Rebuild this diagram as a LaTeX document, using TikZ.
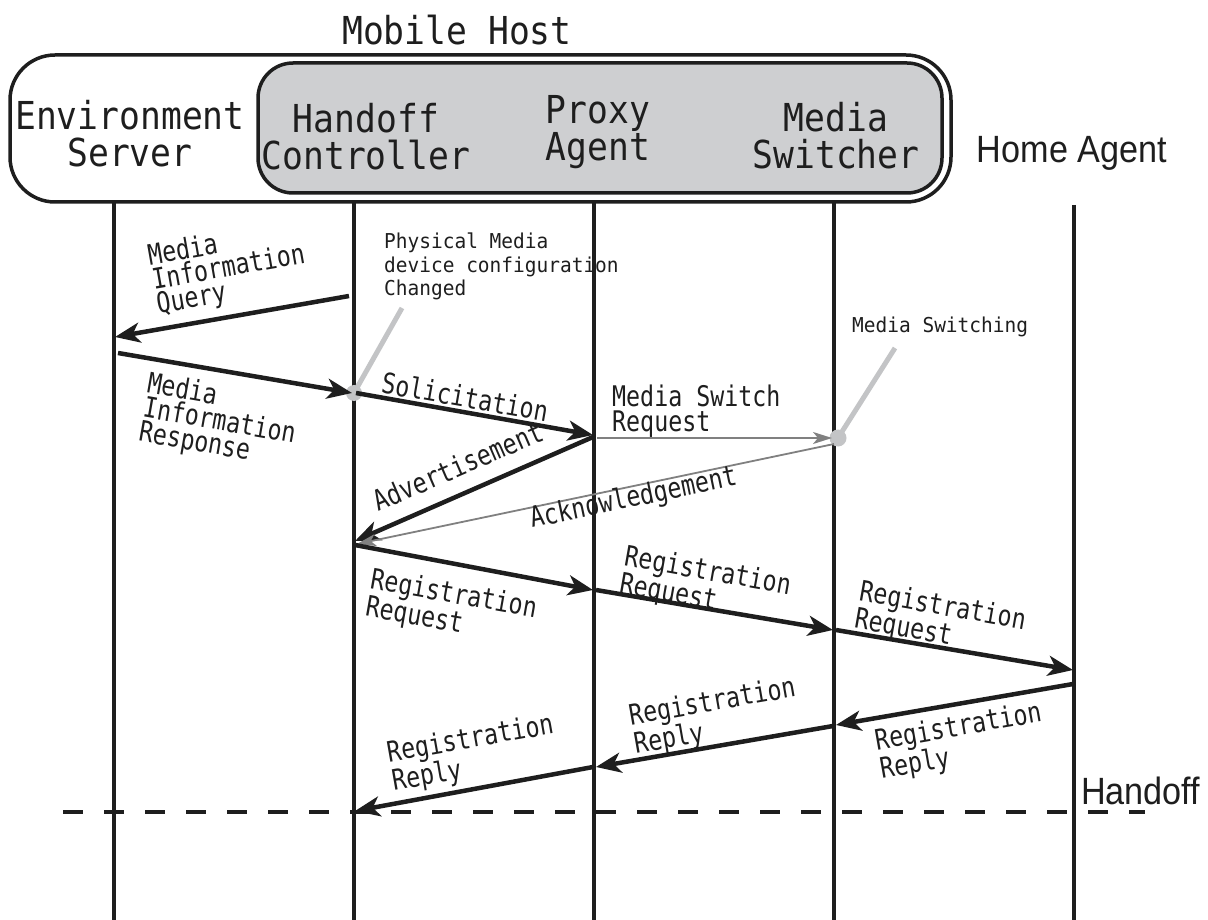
\documentclass[tikz,border=0pt]{standalone}
\usepackage{fontspec}
\usetikzlibrary{arrows.meta}
\setmainfont{Liberation Sans}
\newfontfamily\hdrfont[FakeStretch=0.9]{DejaVu Sans Mono}
\newfontfamily\lblfont[FakeStretch=0.82]{DejaVu Sans Mono}
\newfontfamily\notefont[FakeStretch=0.95]{DejaVu Sans Mono}
\newfontfamily\namefont[FakeStretch=0.9]{Liberation Sans}
\definecolor{ink}{RGB}{30,30,30}
\definecolor{boxgray}{RGB}{206,207,209}
\definecolor{calloutgray}{RGB}{195,196,198}
\definecolor{msggray}{RGB}{128,128,128}
\tikzset{
  hdr/.style={font=\hdrfont\fontsize{38.5}{37}\selectfont, align=center, inner sep=0pt, text=ink},
  plainhdr/.style={font=\namefont\fontsize{38}{38}\selectfont, inner sep=0pt, text=ink},
  lbl/.style={font=\lblfont\fontsize{28.4}{24.5}\selectfont, align=left, inner sep=0pt, text=ink},
  note/.style={font=\notefont\fontsize{20.5}{23.5}\selectfont, align=left, inner sep=0pt, text=ink},
  lifeline/.style={line width=4pt, draw=ink},
  msg/.style={line width=4.5pt, draw=ink, -{Stealth[length=25pt, width=20pt, inset=7pt]}},
  graymsg/.style={line width=1.8pt, draw=msggray, -{Stealth[length=19pt, width=12pt, inset=5pt]}},
  callout/.style={line width=5pt, draw=calloutgray},
  frame/.style={line width=3.5pt, draw=ink},
}
\begin{document}
\begin{tikzpicture}[x=1pt, y=-1pt]
\useasboundingbox (0,0) rectangle (1208,920);

% Mobile host frame and its inner component box
\draw[frame, rounded corners=45pt] (10,55) rectangle (951,202);
\draw[frame, fill=boxgray, rounded corners=35pt] (258,63) rectangle (942,193);
\node[hdr] (mh) at (457,30) {Mobile Host};

% Participants
\node[hdr] (es) at (130,134) {Environment\\Server};
\node[hdr] (hc) at (366,137) {Handoff\\Controller};
\node[hdr] (pa) at (598,132) {Proxy\\Agent};
\node[hdr] (ms) at (836,136) {Media\\Switcher};
\node[plainhdr] (ha) at (1072,153) {Home Agent};

% Lifelines
\coordinate (esT) at (114,202); \coordinate (esB) at (114,920);
\coordinate (hcT) at (354,202); \coordinate (hcB) at (354,920);
\coordinate (paT) at (594,202); \coordinate (paB) at (594,920);
\coordinate (msT) at (834,202); \coordinate (msB) at (834,920);
\coordinate (haT) at (1074,205); \coordinate (haB) at (1074,920);
\foreach \l in {es,hc,pa,ms,ha} \draw[lifeline] (\l T) -- (\l B);

% Handoff boundary
\coordinate (hoL) at (63,812); \coordinate (hoR) at (1145,812);
\draw[line width=3.5pt, draw=ink, dash pattern=on 20pt off 21pt] (hoL) -- (hoR);
\node[plainhdr, anchor=west] (ho) at (1081,791) {Handoff};

% Message end points
\coordinate (m1a) at (349,296);  \coordinate (m1b) at (115,337);
\coordinate (m2a) at (118,353);  \coordinate (m2b) at (352,393);
\coordinate (m3a) at (356,393);  \coordinate (m3b) at (593,435);
\coordinate (m4a) at (593,437);  \coordinate (m4b) at (355,541);
\coordinate (m5a) at (597,438);  \coordinate (m5b) at (832,438);
\coordinate (m6a) at (834,444);  \coordinate (m6b) at (357,544);
\coordinate (m7a) at (355,545);  \coordinate (m7b) at (593,590);
\coordinate (m8a) at (596,590);  \coordinate (m8b) at (833,630);
\coordinate (m9a) at (836,630);  \coordinate (m9b) at (1073,670);
\coordinate (m10a) at (1073,684); \coordinate (m10b) at (836,725);
\coordinate (m11a) at (833,726); \coordinate (m11b) at (596,767);
\coordinate (m12a) at (593,767); \coordinate (m12b) at (355,811);

% Callouts (drawn beneath the messages)
\coordinate (c1a) at (402,308); \coordinate (c1b) at (354,393);
\coordinate (c2a) at (895,348); \coordinate (c2b) at (838,438);
\draw[callout] (c1a) -- (c1b);
\fill[calloutgray] (c1b) circle (8pt);
\draw[callout] (c2a) -- (c2b);
\fill[calloutgray] (c2b) circle (8.5pt);
\node[note, anchor=north west] (n1) at (384,233) {Physical Media\\device configuration\\Changed};
\node[note, anchor=west] (n2) at (852,327) {Media Switching};

% Messages
\draw[msg] (m1a) -- (m1b);
\draw[msg] (m2a) -- (m2b);
\draw[msg] (m3a) -- (m3b);
\draw[msg] (m4a) -- (m4b);
\draw[graymsg] (m5a) -- (m5b);
\draw[graymsg] (m6a) -- (m6b);
\draw[msg] (m7a) -- (m7b);
\draw[msg] (m8a) -- (m8b);
\draw[msg] (m9a) -- (m9b);
\draw[msg] (m10a) -- (m10b);
\draw[msg] (m11a) -- (m11b);
\draw[msg] (m12a) -- (m12b);

% Message labels
\node[lbl, anchor=north west, rotate=10] (l1) at (146,244) {Media\\Information\\Query};
\node[lbl, anchor=north west, rotate=-10] (l2) at (150,371) {Media\\Information\\Response};
\node[lbl, anchor=north west, rotate=-10] (l3) at (384,371) {Solicitation};
\node[lbl, anchor=base west, rotate=23.4] (l4) at (378,512) {Advertisement};
\node[lbl, anchor=north west] (l5) at (612,385) {Media Switch\\Request};
\node[lbl, anchor=base west, rotate=11.8] (l6) at (532,528) {Acknowledgement};
\node[lbl, anchor=north west, rotate=-10] (l7) at (373,567) {Registration\\Request};
\node[lbl, anchor=north west, rotate=-10] (l8) at (627,544) {Registration\\Request};
\node[lbl, anchor=north west, rotate=-10] (l9) at (862,579) {Registration\\Request};
\node[lbl, anchor=north west, rotate=10] (l10) at (873,729) {Registration\\Reply};
\node[lbl, anchor=north west, rotate=10] (l11) at (627,704) {Registration\\Reply};
\node[lbl, anchor=north west, rotate=10] (l12) at (385,741) {Registration\\Reply};
\end{tikzpicture}
\end{document}
